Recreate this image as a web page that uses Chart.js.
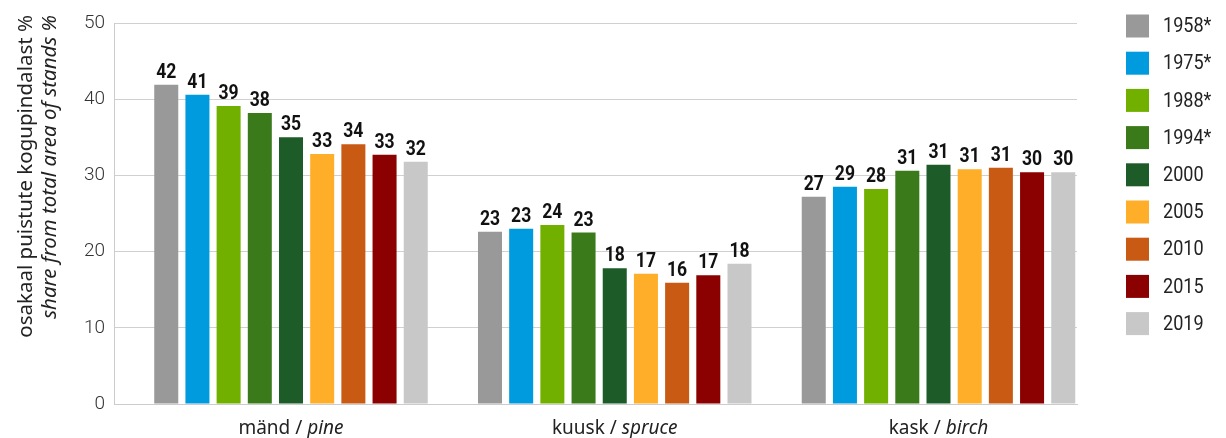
<!DOCTYPE html>
<html>
<head>
<meta charset="utf-8">
<script src="https://cdn.jsdelivr.net/npm/chart.js@4.4.1/dist/chart.umd.min.js"></script>
<style>
    html, body { margin: 0; padding: 0; background: #fff; }
    #wrap { width: 1226px; height: 438px; }
</style>
</head>
<body>
<div id="wrap"><canvas id="chart" width="1226" height="438"></canvas></div>
<script>
const speciesEt = ["mänd", "kuusk", "kask"];
const speciesEn = ["pine", "spruce", "birch"];
const years = ["1958*", "1975*", "1988*", "1994*", "2000", "2005", "2010", "2015", "2019"];
const colors = ["#999999", "#009ade", "#72b000", "#3a7a1a", "#1d5c28", "#ffae2a", "#c85a14", "#8b0000", "#c8c8c8"];

const y1958 = [41.9, 22.6, 27.2];
const y1975 = [40.6, 23.0, 28.5];
const y1988 = [39.1, 23.5, 28.2];
const y1994 = [38.2, 22.5, 30.6];
const y2000 = [35.0, 17.8, 31.4];
const y2005 = [32.8, 17.1, 30.8];
const y2010 = [34.1, 15.9, 31.0];
const y2015 = [32.7, 16.9, 30.4];
const y2019 = [31.8, 18.4, 30.4];
const seriesValues = [y1958, y1975, y1988, y1994, y2000, y2005, y2010, y2015, y2019];

const yTicks = [0, 10, 20, 30, 40, 50];
const yTitle1 = "osakaal puistute kogupindalast %";
const yTitle2 = "share from total area of stands %";

const FONT = "Roboto, 'Noto Sans', sans-serif";
const WIDE = "'Noto Sans', 'Open Sans', sans-serif";

// value labels, x labels (mixed italic), y title and legend
const extras = {
    id: "extras",
    afterDatasetsDraw(chart) {
        const ctx = chart.ctx;
        ctx.save();
        ctx.fillStyle = "#111";
        ctx.font = "bold 19.5px " + FONT;
        ctx.textAlign = "center";
        ctx.textBaseline = "alphabetic";
        chart.data.datasets.forEach((ds, i) => {
            chart.getDatasetMeta(i).data.forEach((bar, j) => {
                ctx.save();
                ctx.translate(bar.x, bar.y - 7);
                ctx.scale(0.9, 1);
                ctx.fillText(Math.round(ds.data[j].y), 0, 0);
                ctx.restore();
            });
        });
        ctx.restore();
    },
    afterDraw(chart) {
        const ctx = chart.ctx;
        const xs = chart.scales.x;
        ctx.save();
        ctx.fillStyle = "#222";
        ctx.textBaseline = "alphabetic";
        speciesEt.forEach((et, i) => {
            const a = et + " / ";
            ctx.font = "19px " + WIDE;
            const wa = ctx.measureText(a).width;
            ctx.font = "italic 19px " + WIDE;
            const wb = ctx.measureText(speciesEn[i]).width;
            const cx = xs.getPixelForValue(i);
            const x0 = cx - (wa + wb) / 2;
            ctx.textAlign = "left";
            ctx.font = "19px " + WIDE;
            ctx.fillText(a, x0, 434);
            ctx.font = "italic 19px " + WIDE;
            ctx.fillText(speciesEn[i], x0 + wa, 434);
        });

        // y title, two lines
        ctx.save();
        ctx.translate(32, 15);
        ctx.rotate(-Math.PI / 2);
        ctx.textAlign = "right";
        ctx.font = "20.5px " + WIDE;
        ctx.fillText(yTitle1, 0, 0);
        ctx.restore();
        ctx.save();
        ctx.translate(56, 15);
        ctx.rotate(-Math.PI / 2);
        ctx.textAlign = "right";
        ctx.font = "italic 20.5px " + WIDE;
        ctx.fillText(yTitle2, 0, 0);
        ctx.restore();

        // legend
        ctx.textAlign = "left";
        ctx.textBaseline = "middle";
        ctx.font = "21px " + FONT;
        chart.data.datasets.forEach((ds, i) => {
            const cy = 26 + i * 37.2;
            ctx.fillStyle = ds.backgroundColor;
            ctx.fillRect(1126, cy - 11.5, 23, 23);
            ctx.fillStyle = "#222";
            ctx.save();
            ctx.translate(1163, cy + 1);
            ctx.scale(0.86, 1);
            ctx.fillText(ds.label, 0, 0);
            ctx.restore();
        });
        ctx.restore();
    }
};

new Chart(document.getElementById("chart"), {
    type: "bar",
    data: {
        datasets: years.map((y, i) => ({
            label: y,
            data: seriesValues[i].map((v, j) => ({ x: j, y: v })),
            backgroundColor: colors[i],
            barPercentage: 0.77,
            categoryPercentage: 0.867,
        })),
    },
    options: {
        responsive: false,
        animation: false,
        devicePixelRatio: 1,
        layout: { padding: { left: 0, right: 149, top: 23, bottom: 0 } },
        plugins: {
            legend: { display: false },
            tooltip: { enabled: false },
        },
        scales: {
            x: {
                type: "linear",
                min: -0.5467,
                max: 2.4278,
                offset: false,
                afterBuildTicks: (s) => { s.ticks = speciesEt.map((_, j) => ({ value: j })); },
                grid: { display: false },
                border: { color: "#cccccc", width: 1 },
                ticks: { display: false },
                afterFit: (s) => { s.height = 34; },
            },
            y: {
                min: 0,
                max: 50,
                afterBuildTicks: (s) => { s.ticks = yTicks.map((v) => ({ value: v })); },
                grid: { color: "#d0d0d0", drawTicks: false },
                border: { color: "#cccccc", width: 1 },
                ticks: { padding: 9, color: "#333", font: { family: FONT, size: 19, weight: 300 } },
                afterFit: (s) => { s.width = 114; },
            },
        },
    },
    plugins: [extras],
});
</script>
</body>
</html>
